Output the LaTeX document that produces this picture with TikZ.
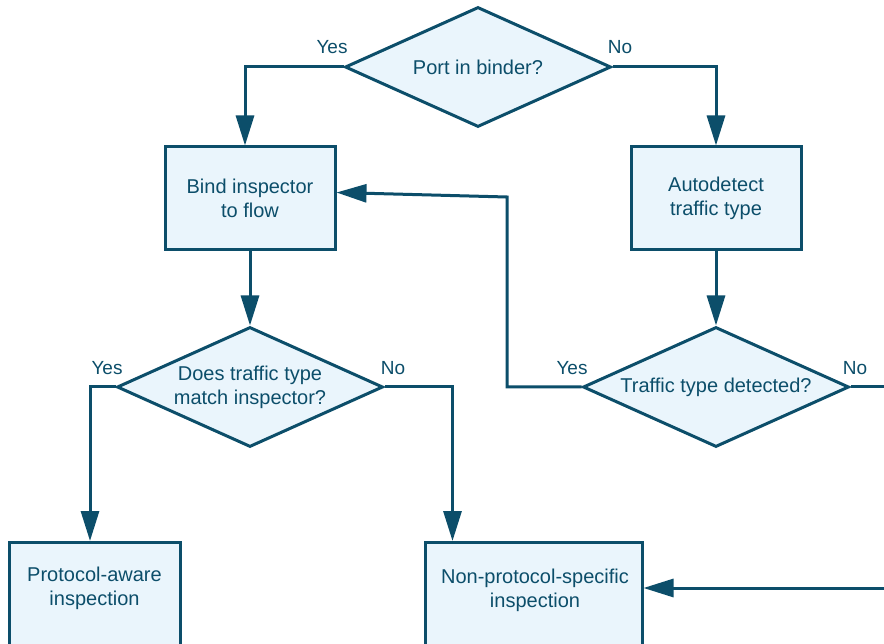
\documentclass[tikz,border=0pt]{standalone}
\usepackage{fontspec}
\setmainfont{Liberation Sans}
\usetikzlibrary{shapes.geometric,arrows.meta}
\definecolor{ink}{HTML}{0C4E6A}
\definecolor{pale}{HTML}{EAF5FC}
\begin{document}
\begin{tikzpicture}[x=1pt,y=-1pt,
  box/.style={draw=ink, fill=pale, line width=3pt, minimum width=170pt, minimum height=103pt, inner sep=0pt},
  dec/.style={draw=ink, fill=pale, line width=3pt, diamond, minimum width=266pt, minimum height=120pt, inner sep=0pt, aspect=2.2},
  txt/.style={text=ink, font=\fontsize{20}{24}\selectfont, align=center},
  lbl/.style={text=ink, font=\fontsize{19}{23}\selectfont, inner sep=0pt},
  flow/.style={draw=ink, line width=3pt, -{Triangle[length=30pt,width=18pt]}},
  plain/.style={draw=ink, line width=3pt},
]
\useasboundingbox (0,0) rectangle (884,644);
\clip (0,0) rectangle (884,644);
\fill[white] (0,0) rectangle (884,644);

% decisions
\node[dec, txt] (d1) at (478,67) {Port in binder?};
\node[dec, txt] (d2) at (250,387) {Does traffic type\\match inspector?};
\node[dec, txt] (d3) at (716,387) {Traffic type detected?};

% process boxes
\node[box, txt] (b1) at (250,198.5) {Bind inspector\\to flow};
\node[box, txt] (b2) at (716,198.5) {Autodetect\\traffic type};
\node[box, minimum width=171pt, minimum height=110pt, anchor=north] (b3) at (94.5,541) {};
\node[txt] (b3t) at (94.5,588) {Protocol-aware\\inspection};
\node[box, minimum width=217pt, minimum height=110pt, anchor=north] (b4) at (533.5,541) {};
\node[txt] (b4t) at (535,590) {Non-protocol-specific\\inspection};

% labels
\node[lbl] (l1) at (332,47) {Yes};
\node[lbl] (l2) at (620,47) {No};
\node[lbl] (l3) at (107,368) {Yes};
\node[lbl] (l4) at (393,368) {No};
\node[lbl] (l5) at (572,368) {Yes};
\node[lbl] (l6) at (855,368) {No};

% free ends
\coordinate (e1) at (884,387);
\coordinate (e2) at (884,588);
\coordinate (k1) at (507,387);
\coordinate (k2) at (507,197);

% connectors
\draw[flow] (d1.west) -| ([xshift=-5pt]b1.north);
\draw[flow] (d1.east) -| (b2.north);
\draw[flow] (b1.south) -- (d2.north);
\draw[flow] (b2.south) -- (d3.north);
\draw[flow] (d2.west) -| ([xshift=-4.5pt]b3.north);
\draw[flow] (d2.east) -| ([xshift=-81pt]b4.north);
\draw[flow] (d3.west) -- (k1) -- (k2) -- ([yshift=6pt]b1.east);
\draw[plain] (d3.east) -- (e1);
\draw[flow] (e2) -- (b4.east |- e2);
\end{tikzpicture}
\end{document}
